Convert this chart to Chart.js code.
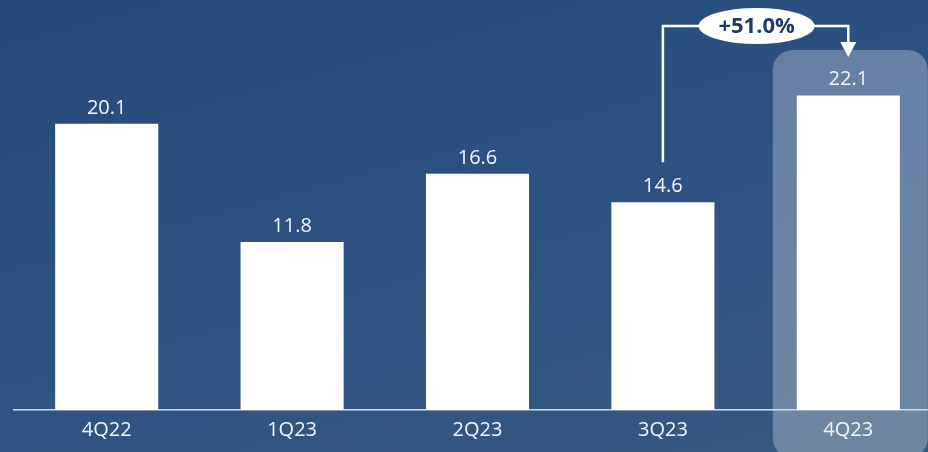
<!DOCTYPE html>
<html>
<head>
<meta charset="utf-8">
<script src="https://cdn.jsdelivr.net/npm/chart.js@4.4.1/dist/chart.umd.min.js"></script>
<style>
  html, body { margin: 0; padding: 0; width: 928px; height: 452px; overflow: hidden; }
  body { background: linear-gradient(165deg, #264b7a 0%, #2d5382 55%, #36597f 100%); }
  canvas { display: block; }
</style>
</head>
<body>
<canvas id="chart-quarters" width="941" height="452"></canvas>
<script>
const quarters = ['4Q22', '1Q23', '2Q23', '3Q23', '4Q23'];
const values = [20.1, 11.8, 16.6, 14.6, 22.1];
const growthLabel = '+51.0%';
const highlightIndex = 4;
const growthFrom = 3;

const FONT = '"Open Sans", "Noto Sans", sans-serif';

// shaded panel behind the latest quarter
const highlightPanel = {
  id: 'highlightPanel',
  beforeDraw(chart) {
    const { ctx } = chart;
    const bar = chart.getDatasetMeta(0).data[highlightIndex];
    const w = 155, r = 20;
    const x = bar.x - w / 2 + 2, y = 50, h = 408;
    ctx.save();
    ctx.fillStyle = 'rgba(255,255,255,0.28)';
    ctx.beginPath();
    ctx.roundRect(x, y, w, h, r);
    ctx.fill();
    ctx.restore();
  },
};

// value labels over each bar + the growth bracket
const barLabels = {
  id: 'barLabels',
  afterDatasetsDraw(chart) {
    const { ctx } = chart;
    const meta = chart.getDatasetMeta(0);
    ctx.save();
    ctx.fillStyle = '#f4f6f9';
    ctx.font = `20px ${FONT}`;
    ctx.textAlign = 'center';
    ctx.textBaseline = 'alphabetic';
    meta.data.forEach((bar, i) => {
      ctx.fillText(values[i].toFixed(1), bar.x, bar.y - 10);
    });

    const from = meta.data[growthFrom];
    const to = meta.data[highlightIndex];
    const topY = 26;
    const midX = (from.x + to.x) / 2 + 1;

    ctx.strokeStyle = '#ffffff';
    ctx.lineWidth = 2.5;
    ctx.beginPath();
    ctx.moveTo(from.x, from.y - 40);
    ctx.lineTo(from.x, topY);
    ctx.lineTo(to.x, topY);
    ctx.lineTo(to.x, 43);
    ctx.stroke();

    ctx.fillStyle = '#ffffff';
    ctx.beginPath();
    ctx.moveTo(to.x - 8, 42);
    ctx.lineTo(to.x + 8, 42);
    ctx.lineTo(to.x, 57);
    ctx.closePath();
    ctx.fill();

    ctx.beginPath();
    ctx.ellipse(midX, topY, 58, 18, 0, 0, Math.PI * 2);
    ctx.fill();

    ctx.fillStyle = '#1d3b68';
    ctx.font = `bold 22px ${FONT}`;
    ctx.textBaseline = 'middle';
    ctx.fillText(growthLabel, midX, topY + 1);
    ctx.restore();
  },
};

new Chart(document.getElementById('chart-quarters'), {
  type: 'bar',
  data: {
    labels: quarters,
    datasets: [{
      data: values,
      backgroundColor: '#ffffff',
      borderWidth: 0,
      barPercentage: 0.556,
      categoryPercentage: 1,
    }],
  },
  options: {
    responsive: false,
    animation: false,
    devicePixelRatio: 1,
    layout: { padding: { left: 14, right: 0, top: 0, bottom: 0 } },
    plugins: {
      legend: { display: false },
      tooltip: { enabled: false },
    },
    scales: {
      x: {
        grid: { display: false, drawTicks: false },
        border: { display: true, color: '#d6dde6', width: 1.5 },
        ticks: { color: '#f4f6f9', font: { family: FONT, size: 20 }, padding: 8 },
        afterFit: axis => { axis.height = 42; },
      },
      y: {
        display: false,
        min: 0,
        max: 28.8,
      },
    },
  },
  plugins: [highlightPanel, barLabels],
});
</script>
</body>
</html>
